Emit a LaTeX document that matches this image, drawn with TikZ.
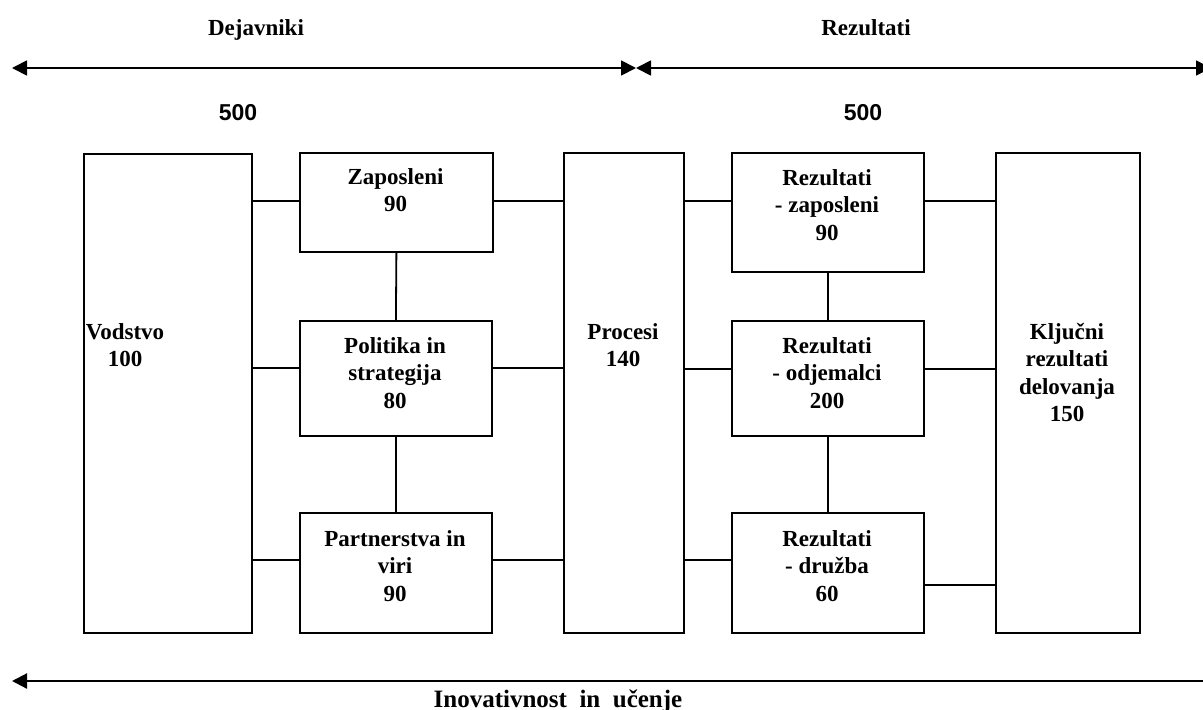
\documentclass[tikz,border=0pt]{standalone}
\usepackage{fontspec}
\setmainfont{Liberation Serif}
\newfontfamily\arialfont{Liberation Sans}
\usetikzlibrary{arrows.meta}
\begin{document}
\begin{tikzpicture}[x=1pt,y=-1pt,
  boxnode/.style={draw,line width=1.8pt,inner sep=0pt,anchor=north west},
  lbl/.style={font=\fontsize{23}{27.5}\selectfont\bfseries,align=center,anchor=base,inner sep=0pt},
  conn/.style={line width=1.8pt},
  hdr/.style={font=\fontsize{23}{27}\selectfont\bfseries,anchor=base,inner sep=0pt},
  num/.style={font=\arialfont\fontsize{23}{27}\selectfont\bfseries,anchor=base,inner sep=0pt},
  tip/.style={-{Triangle[length=15pt,width=15pt]}},
  dtip/.style={{Triangle[length=15pt,width=15pt]}-{Triangle[length=15pt,width=15pt]}}
]
\useasboundingbox (0,0) rectangle (1203,710);
% boxes
\node[boxnode,minimum width=168pt,minimum height=479pt] (vod) at (83,153) {};
\node[boxnode,minimum width=193pt,minimum height=99pt] (zap) at (299,152) {};
\node[boxnode,minimum width=192pt,minimum height=115pt] (pol) at (299,320) {};
\node[boxnode,minimum width=192pt,minimum height=120pt] (par) at (299,512) {};
\node[boxnode,minimum width=120pt,minimum height=480pt] (pro) at (563,152) {};
\node[boxnode,minimum width=192pt,minimum height=119pt] (rz) at (731,152) {};
\node[boxnode,minimum width=192pt,minimum height=115pt] (ro) at (731,320) {};
\node[boxnode,minimum width=192pt,minimum height=120pt] (rd) at (731,512) {};
\node[boxnode,minimum width=144pt,minimum height=480pt] (klj) at (995,152) {};
% box texts (anchor = baseline of the last line)
\node[lbl] (tvod) at (125,366.5) {Vodstvo\\100};
\node[lbl] (tzap) at (395.5,211.5) {Zaposleni\\90};
\node[lbl] (tpol) at (395,408) {Politika in\\strategija\\80};
\node[lbl] (tpar) at (395,601) {Partnerstva in\\viri\\90};
\node[lbl] (tpro) at (623,366.5) {Procesi\\140};
\node[lbl] (trz) at (827,240) {Rezultati\\- zaposleni\\90};
\node[lbl] (tro) at (827,408) {Rezultati\\- odjemalci\\200};
\node[lbl] (trd) at (827,601) {Rezultati\\- družba\\60};
\node[lbl] (tklj) at (1067,421.5) {Ključni\\rezultati\\delovanja\\150};
% connector anchor points
\coordinate (zapw) at ([yshift=1.5pt]zap.west);
\coordinate (zape) at ([yshift=1.5pt]zap.east);
\coordinate (polw) at ([yshift=10.5pt]pol.west);
\coordinate (pole) at ([yshift=10.5pt]pol.east);
\coordinate (parw) at ([yshift=13pt]par.west);
\coordinate (pare) at ([yshift=13pt]par.east);
\coordinate (rzw) at ([yshift=11.5pt]rz.west);
\coordinate (rze) at ([yshift=11.5pt]rz.east);
\coordinate (row) at ([yshift=9.5pt]ro.west);
\coordinate (roe) at ([yshift=9.5pt]ro.east);
\coordinate (rdw) at ([yshift=13pt]rd.west);
\coordinate (rde) at ([yshift=-12pt]rd.east);
% connectors
\draw[conn] (zapw -| vod.east) -- (zapw);
\draw[conn] (polw -| vod.east) -- (polw);
\draw[conn] (parw -| vod.east) -- (parw);
\draw[conn] (zape) -- (zape -| pro.west);
\draw[conn] (pole) -- (pole -| pro.west);
\draw[conn] (pare) -- (pare -| pro.west);
\draw[conn] (zap.south) -- (pol.north);
\draw[conn] (pol.south) -- (par.north);
\draw[conn] (rzw -| pro.east) -- (rzw);
\draw[conn] (row -| pro.east) -- (row);
\draw[conn] (rdw -| pro.east) -- (rdw);
\draw[conn] (rze) -- (rze -| klj.west);
\draw[conn] (roe) -- (roe -| klj.west);
\draw[conn] (rde) -- (rde -| klj.west);
\draw[conn] (rz.south) -- (ro.north);
\draw[conn] (ro.south) -- (rd.north);
% header arrows
\coordinate (la) at (12,68);
\coordinate (mid) at (636,68);
\coordinate (ra) at (1211,68);
\coordinate (bl) at (12,681);
\coordinate (br) at (1204,681);
\draw[line width=1.8pt,dtip] (la) -- (mid);
\draw[line width=1.8pt,dtip] (mid) -- (ra);
\draw[line width=2.2pt,tip] (br) -- (bl);
% headings
\node[hdr] (dej) at (256,35) {Dejavniki};
\node[hdr] (rez) at (866,35) {Rezultati};
\node[num] (n1) at (238,120) {500};
\node[num] (n2) at (863,120) {500};
\node[font=\fontsize{25}{30}\selectfont\bfseries,anchor=base,inner sep=0pt] (ino) at (558,707) {Inovativnost\ \ in\ \ učenje};
\end{tikzpicture}
\end{document}
